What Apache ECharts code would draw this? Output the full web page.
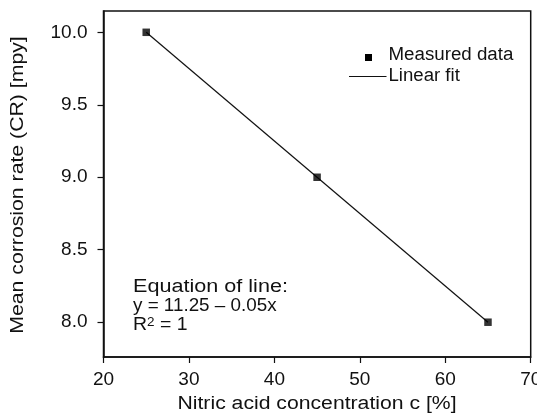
<!DOCTYPE html>
<html>
<head>
<meta charset="utf-8">
<script src="https://cdn.jsdelivr.net/npm/echarts@6/dist/echarts.min.js"></script>
<style>html,body{margin:0;padding:0;background:#fff}#c{width:537px;height:418px}</style>
</head>
<body>
<div id="c"></div>
<script>
var concentration = [25, 45, 65];
var corrosionRate = [10.0, 9.0, 8.0];
var fitX = [25, 65];
var fitY = [10.0, 8.0];
var xTicks = [20, 30, 40, 50, 60, 70];
var yTicks = [8.0, 8.5, 9.0, 9.5, 10.0];
var xTitle = 'Nitric acid concentration c [%]';
var yTitle = 'Mean corrosion rate (CR) [mpy]';
var legendNames = ['Measured data', 'Linear fit'];
var equationLines = ['Equation of line:', 'y = 11.25 \u2013 0.05x'];

var FONT = '"Liberation Sans", Arial, sans-serif';
var TXT = '#111';
function txt(s, x, y, sx, align) {
  return { type: 'text', x: x, y: y, scaleX: sx,
    style: { text: s, font: '18px ' + FONT, fill: TXT, align: align || 'left', verticalAlign: 'middle' } };
}
var chart = echarts.init(document.getElementById('c'));
chart.setOption({
  animation: false,
  backgroundColor: '#fff',
  grid: { left: 103.5, right: 6.3, top: 11, bottom: 61, outerBoundsMode: 'none', containLabel: false,
    show: true, borderColor: '#111', borderWidth: 1.5, backgroundColor: 'transparent' },
  xAxis: {
    type: 'value', min: xTicks[0], max: xTicks[xTicks.length - 1], interval: 10,
    axisLine: { show: true, lineStyle: { color: '#111', width: 1.5 } },
    axisTick: { show: true, inside: false, length: 6, lineStyle: { color: '#111', width: 1.2 } },
    axisLabel: { margin: 13, fontFamily: FONT, fontSize: 19, color: TXT, hideOverlap: false, showMinLabel: true, showMaxLabel: true },
    splitLine: { show: false }
  },
  yAxis: {
    type: 'value', min: 7.76, max: 10.147,
    axisLine: { show: true, lineStyle: { color: '#111', width: 1.5 } },
    axisTick: { show: true, inside: false, length: 6, lineStyle: { color: '#111', width: 1.2 }, customValues: yTicks },
    axisLabel: { margin: 16, fontFamily: FONT, fontSize: 19, color: TXT, customValues: yTicks,
      formatter: function (v) { return v.toFixed(1); } },
    splitLine: { show: false }
  },
  series: [
    {
      name: legendNames[1], type: 'line', data: fitX.map(function (x, i) { return [x, fitY[i]]; }),
      symbol: 'none', lineStyle: { color: '#111', width: 1.2 }, z: 2
    },
    {
      name: legendNames[0], type: 'scatter', data: concentration.map(function (x, i) { return [x, corrosionRate[i]]; }),
      symbol: 'rect', symbolSize: 7.5, itemStyle: { color: '#000' }, z: 3
    }
  ],
  graphic: [
    { type: 'rect', shape: { x: 365, y: 54, width: 7, height: 7 }, style: { fill: '#000' } },
    txt(legendNames[0], 388.5, 55.5, 1.04),
    { type: 'line', shape: { x1: 349, y1: 76.5, x2: 386.5, y2: 76.5 }, style: { stroke: '#111', lineWidth: 1.2 } },
    txt(legendNames[1], 388.5, 76, 1.033),
    txt(equationLines[0], 133, 287.5, 1.2),
    txt(equationLines[1], 133, 306.5, 1.046),
    { type: 'text', x: 133, y: 325.5, scaleX: 1.08, style: {
      text: '{a|R}{s|2}{a| = 1}', verticalAlign: 'middle', align: 'left',
      rich: { a: { fontFamily: FONT, fontSize: 18, fill: TXT }, s: { fontFamily: FONT, fontSize: 12.5, fill: TXT, verticalAlign: 'top' } }
    } },
    txt(xTitle, 317, 404, 1.177, 'center'),
    { type: 'text', x: 18, y: 185, rotation: Math.PI / 2, scaleX: 1.18,
      style: { text: yTitle, font: '18px ' + FONT, fill: TXT, align: 'center', verticalAlign: 'middle' } }
  ]
});
</script>
</body>
</html>
